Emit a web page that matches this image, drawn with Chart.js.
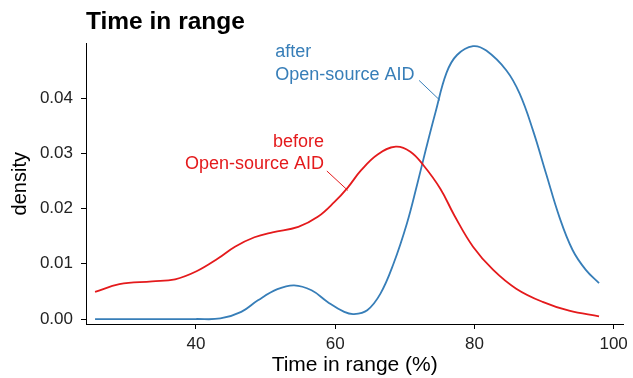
<!DOCTYPE html>
<html>
<head>
<meta charset="utf-8">
<script src="https://cdn.jsdelivr.net/npm/chart.js@4/dist/chart.umd.min.js"></script>
<style>
  html, body { margin: 0; padding: 0; background: #fff; }
  #wrap { width: 633px; height: 378px; }
</style>
</head>
<body>
<div id="wrap"><canvas id="c" width="633" height="378"></canvas></div>
<script>
// ---- data ----
const beforeX = [25.5, 29, 33.7, 37, 40, 43.2, 45.6, 48.4, 51, 54.7, 57.5, 59.9, 61.8, 63.7, 66.1, 68.7, 70.8, 72.7, 75.1, 77.1, 79.8, 82.7, 86, 89.8, 93.6, 97.9];
const beforeY = [0.0049, 0.0063, 0.0068, 0.0072, 0.0086, 0.0110, 0.0131, 0.0148, 0.0157, 0.0167, 0.0185, 0.0212, 0.0238, 0.0269, 0.0298, 0.0312, 0.0303, 0.0278, 0.0236, 0.0188, 0.0131, 0.0089, 0.0055, 0.0031, 0.0015, 0.0005];
const afterX = [25.5, 30, 35, 40, 43.5, 46.5, 48.9, 51.7, 54.1, 56.6, 58.9, 61.3, 62.7, 64.6, 66.5, 68.4, 70.3, 71.8, 73, 74.4, 76, 77.5, 79.8, 81.7, 84.6, 86.5, 88.4, 90.3, 92.2, 94.1, 96, 97.9];
const afterY = [0, 0, 0, 0, 0.0001, 0.0013, 0.0034, 0.0054, 0.0061, 0.0052, 0.0031, 0.0013, 0.0009, 0.0016, 0.0046, 0.0101, 0.0173, 0.0245, 0.0306, 0.0374, 0.0446, 0.0478, 0.0494, 0.0486, 0.0450, 0.0408, 0.0342, 0.0263, 0.0185, 0.0125, 0.0089, 0.0065];
const xTicks = [40, 60, 80, 100];
const yTicks = [0, 0.01, 0.02, 0.03, 0.04];
const seriesNames = ['before Open-source AID', 'after Open-source AID'];

const RED = '#E41A1C';
const BLUE = '#377EB8';
const FONT = '"Liberation Sans", Arial, Helvetica, sans-serif';

// annotation labels (data coordinates)
const labelsCfg = [
  { lines: ['after', 'Open-source AID'], x: 51.4, y: [0.0483, 0.0441], align: 'left', color: BLUE,
    seg: [[72.05, 0.0432], [75.04, 0.0396]] },
  { lines: ['before', 'Open-source AID'], x: 58.4, y: [0.0320, 0.0280], align: 'right', color: RED,
    seg: [[58.8, 0.0268], [61.8, 0.0233]] }
];

const annotPlugin = {
  id: 'annot',
  afterDatasetsDraw(chart) {
    const ctx = chart.ctx, xs = chart.scales.x, ys = chart.scales.y;
    ctx.save();
    labelsCfg.forEach(l => {
      ctx.font = '18px ' + FONT;
      ctx.fillStyle = l.color;
      ctx.textAlign = l.align;
      ctx.textBaseline = 'middle';
      l.lines.forEach((t, i) => ctx.fillText(t, xs.getPixelForValue(l.x), ys.getPixelForValue(l.y[i])));
      ctx.strokeStyle = l.color;
      ctx.lineWidth = 1;
      ctx.beginPath();
      ctx.moveTo(xs.getPixelForValue(l.seg[0][0]), ys.getPixelForValue(l.seg[0][1]));
      ctx.lineTo(xs.getPixelForValue(l.seg[1][0]), ys.getPixelForValue(l.seg[1][1]));
      ctx.stroke();
    });
    ctx.restore();
  }
};

new Chart(document.getElementById('c'), {
  type: 'scatter',
  data: {
    datasets: [
      { label: seriesNames[0], data: beforeX.map((x, i) => ({ x, y: beforeY[i] })),
        borderColor: RED, backgroundColor: RED, showLine: true, pointRadius: 0, borderWidth: 1.8,
        tension: 0.4 },
      { label: seriesNames[1], data: afterX.map((x, i) => ({ x, y: afterY[i] })),
        borderColor: BLUE, backgroundColor: BLUE, showLine: true, pointRadius: 0, borderWidth: 1.8,
        tension: 0.4 }
    ]
  },
  options: {
    responsive: false,
    animation: false,
    layout: { padding: { left: 0, right: 5, top: 0, bottom: 0 } },
    plugins: {
      legend: { display: false },
      tooltip: { enabled: false },
      title: {
        display: true, text: 'Time in range', align: 'start', fullSize: false,
        color: '#000', font: { family: FONT, size: 24.5, weight: 'bold' },
        padding: { top: 8, bottom: 6 }
      }
    },
    scales: {
      x: {
        type: 'linear', min: 24.2, max: 101.4,
        afterFit(s) { s.height = 54; },
        afterBuildTicks(s) { s.ticks = xTicks.map(v => ({ value: v })); },
        border: { display: true, color: '#000', width: 1 },
        grid: { drawOnChartArea: false, drawTicks: true, tickLength: 5, color: '#000' },
        ticks: { color: '#222', font: { family: FONT, size: 17 }, padding: 5, maxRotation: 0 },
        title: { display: true, text: 'Time in range (%)', color: '#000',
          font: { family: FONT, size: 21 }, padding: { top: 0, bottom: 0 } }
      },
      y: {
        type: 'linear', min: -0.0009, max: 0.0499,
        afterFit(s) { s.width = 86; },
        afterBuildTicks(s) { s.ticks = yTicks.map(v => ({ value: v })); },
        border: { display: true, color: '#000', width: 1 },
        grid: { drawOnChartArea: false, drawTicks: true, tickLength: 5, color: '#000' },
        ticks: { color: '#222', font: { family: FONT, size: 17 }, padding: 8,
          callback: v => Number(v).toFixed(2) },
        title: { display: true, text: 'density', color: '#000',
          font: { family: FONT, size: 20 }, padding: { top: 8, bottom: 0 } }
      }
    }
  },
  plugins: [annotPlugin]
});
</script>
</body>
</html>
